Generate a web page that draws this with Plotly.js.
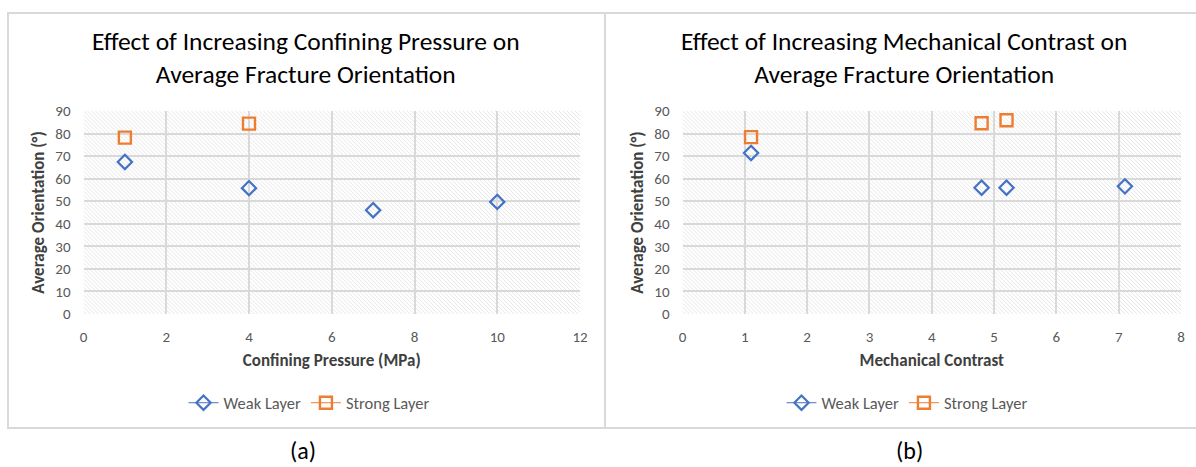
<!DOCTYPE html>
<html>
<head>
<meta charset="utf-8">
<script src="https://cdn.plot.ly/plotly-3.0.1.min.js"></script>
<style>html,body{margin:0;padding:0;background:#fff;}#chart{width:1196px;height:467px;}</style>
</head>
<body>
<div id="chart"></div>
<script>
// ---- Data ----
const pressureWeakX = [1, 4, 7, 10];
const pressureWeakY = [67.4, 55.8, 46.0, 49.7];
const pressureStrongX = [1, 4];
const pressureStrongY = [78.2, 84.4];

const contrastWeakX = [1.1, 4.8, 5.2, 7.1];
const contrastWeakY = [71.4, 56.0, 56.0, 56.6];
const contrastStrongX = [1.1, 4.8, 5.2];
const contrastStrongY = [78.4, 84.6, 85.9];

const seriesNames = ["Weak Layer", "Strong Layer"];
const titleA = "Effect of Increasing Confining Pressure on<br>Average Fracture Orientation";
const titleB = "Effect of Increasing Mechanical Contrast on<br>Average Fracture Orientation";
const xTitleA = "Confining Pressure (MPa)";
const xTitleB = "Mechanical Contrast";
const yTitle = "Average Orientation (°)";
const captions = ["(a)", "(b)"];

// ---- Layout helpers ----
const W = 1196, H = 467;
const FONT = "Carlito, Calibri, Lato, sans-serif";
const px = v => v / W;
const py = v => 1 - v / H;
const blue = "#4472C4", orange = "#ED7D31", grid = "#d9d9d9", tick = "#595959";

const plotA = {x0: 83.5, x1: 580, y0: 111, y1: 314};
const plotB = {x0: 682.5, x1: 1181, y0: 111, y1: 314};

function hatch(w, h) {
  const svg = `<svg xmlns="http://www.w3.org/2000/svg" width="${w}" height="${h}">` +
    `<defs><pattern id="p" width="4" height="4" patternUnits="userSpaceOnUse">` +
    `<path d="M-1,-1 L5,5 M-1,3 L1,5 M3,-1 L5,1" stroke="#dcdcdc" stroke-width="0.7"/></pattern></defs>` +
    `<rect width="${w}" height="${h}" fill="#ffffff"/><rect width="${w}" height="${h}" fill="url(#p)"/></svg>`;
  return "data:image/svg+xml;base64," + btoa(svg);
}

const weakMarker = {symbol: "diamond-open", size: 11, color: blue, line: {width: 2.2, color: blue}};
const strongMarker = {symbol: "square-open", size: 12, color: orange, line: {width: 2.4, color: orange}};

const traces = [
  {x: pressureWeakX, y: pressureWeakY, xaxis: "x", yaxis: "y", mode: "markers", marker: weakMarker, showlegend: false, name: seriesNames[0]},
  {x: pressureStrongX, y: pressureStrongY, xaxis: "x", yaxis: "y", mode: "markers", marker: strongMarker, showlegend: false, name: seriesNames[1]},
  {x: contrastWeakX, y: contrastWeakY, xaxis: "x2", yaxis: "y2", mode: "markers", marker: weakMarker, showlegend: false, name: seriesNames[0]},
  {x: contrastStrongX, y: contrastStrongY, xaxis: "x2", yaxis: "y2", mode: "markers", marker: strongMarker, showlegend: false, name: seriesNames[1]},
  // legend entries
  {x: [null], y: [null], xaxis: "x", yaxis: "y", mode: "lines+markers", marker: weakMarker, line: {color: blue, width: 1}, name: seriesNames[0], legend: "legend"},
  {x: [null], y: [null], xaxis: "x", yaxis: "y", mode: "lines+markers", marker: strongMarker, line: {color: orange, width: 1}, name: seriesNames[1], legend: "legend"},
  {x: [null], y: [null], xaxis: "x2", yaxis: "y2", mode: "lines+markers", marker: weakMarker, line: {color: blue, width: 1}, name: seriesNames[0], legend: "legend2"},
  {x: [null], y: [null], xaxis: "x2", yaxis: "y2", mode: "lines+markers", marker: strongMarker, line: {color: orange, width: 1}, name: seriesNames[1], legend: "legend2"}
];

function xAxis(p, range, dtick, title) {
  return {
    domain: [px(p.x0), px(p.x1)], range: range, dtick: dtick, tick0: 0,
    showgrid: true, gridcolor: grid, gridwidth: 2, zeroline: false,
    showline: false, ticks: "", ticklen: 0, ticklabelstandoff: 12,
    tickfont: {family: FONT, size: 15, color: tick},
    title: {text: "<b>" + title + "</b>", font: {family: FONT, size: 17, color: "#404040"}, standoff: 9},
    fixedrange: true
  };
}
function yAxis(p, anchor) {
  return {
    domain: [py(p.y1), py(p.y0)], range: [0, 90], dtick: 10, anchor: anchor,
    showgrid: true, gridcolor: grid, gridwidth: 2, zeroline: false,
    showline: false, ticks: "", ticklen: 0, ticklabelstandoff: 12,
    tickfont: {family: FONT, size: 15, color: tick},
    title: {text: "<b>" + yTitle + "</b>", font: {family: FONT, size: 17, color: "#404040"}, standoff: 6},
    fixedrange: true
  };
}

const legendFont = {family: FONT, size: 16.5, color: tick};
const layout = {
  width: W, height: H,
  margin: {l: 0, r: 0, t: 0, b: 0},
  paper_bgcolor: "#ffffff", plot_bgcolor: "rgba(0,0,0,0)",
  font: {family: FONT, color: tick},
  xaxis: Object.assign(xAxis(plotA, [0, 12], 2, xTitleA), {anchor: "y"}),
  yaxis: yAxis(plotA, "x"),
  xaxis2: Object.assign(xAxis(plotB, [0, 8], 1, xTitleB), {anchor: "y2"}),
  yaxis2: yAxis(plotB, "x2"),
  legend: {orientation: "h", x: px(309), xanchor: "center", y: py(403), yanchor: "middle",
           font: legendFont, bgcolor: "rgba(0,0,0,0)", itemwidth: 30},
  legend2: {orientation: "h", x: px(907), xanchor: "center", y: py(403), yanchor: "middle",
           font: legendFont, bgcolor: "rgba(0,0,0,0)", itemwidth: 30},
  images: [
    {source: hatch(Math.round(plotA.x1 - plotA.x0), plotA.y1 - plotA.y0), xref: "paper", yref: "paper",
     x: px(plotA.x0), y: py(plotA.y0), sizex: px(plotA.x1 - plotA.x0), sizey: (plotA.y1 - plotA.y0) / H,
     xanchor: "left", yanchor: "top", sizing: "stretch", layer: "below"},
    {source: hatch(Math.round(plotB.x1 - plotB.x0), plotB.y1 - plotB.y0), xref: "paper", yref: "paper",
     x: px(plotB.x0), y: py(plotB.y0), sizex: px(plotB.x1 - plotB.x0), sizey: (plotB.y1 - plotB.y0) / H,
     xanchor: "left", yanchor: "top", sizing: "stretch", layer: "below"}
  ],
  shapes: [
    {type: "rect", xref: "paper", yref: "paper", x0: px(8), x1: px(1200), y0: py(13), y1: py(428),
     line: {color: "#d9d9d9", width: 2}, fillcolor: "rgba(0,0,0,0)", layer: "below"},
    {type: "line", xref: "paper", yref: "paper", x0: px(605), x1: px(605), y0: py(13), y1: py(428),
     line: {color: "#d9d9d9", width: 2}, layer: "below"}
  ],
  annotations: [
    {text: titleA, xref: "paper", yref: "paper", x: px(306), y: py(58), xanchor: "center", yanchor: "middle",
     showarrow: false, font: {family: FONT, size: 25.5, color: "#000000"}, align: "center"},
    {text: titleB, xref: "paper", yref: "paper", x: px(904), y: py(58), xanchor: "center", yanchor: "middle",
     showarrow: false, font: {family: FONT, size: 25.5, color: "#000000"}, align: "center"},
    {text: captions[0], xref: "paper", yref: "paper", x: px(303), y: py(450), xanchor: "center", yanchor: "middle",
     showarrow: false, font: {family: FONT, size: 24, color: "#000000"}},
    {text: captions[1], xref: "paper", yref: "paper", x: px(909), y: py(450), xanchor: "center", yanchor: "middle",
     showarrow: false, font: {family: FONT, size: 24, color: "#000000"}}
  ]
};

Plotly.newPlot("chart", traces, layout, {displayModeBar: false, staticPlot: true});
</script>
</body>
</html>
